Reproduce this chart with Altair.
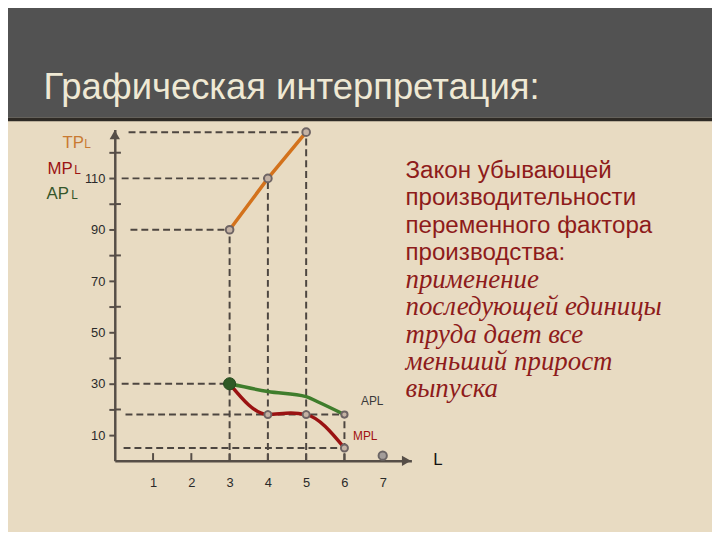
import altair as alt
import pandas as pd

# ---------------- data ----------------
TITLE = "Графическая интерпретация:"
RULE_LINES = ["Закон убывающей", "производительности", "переменного фактора", "производства:"]
RULE_ITALIC = ["применение", "последующей единицы", "труда дает все", "меньший прирост", "выпуска"]

TP_L = [3, 4, 5]
TP = [90, 110, 128]

AP_L = [3, 4, 5, 5.3, 6]
AP = [30, 27, 25, 23, 18]

MP_L = [3, 4, 4.6, 5, 6]
MP = [30, 18, 18.6, 18, 5]
MP_MARK_L = [4, 5, 6]
MP_MARK = [18, 18, 5]

AP_MARK_L = [6]
AP_MARK = [18]
AP_BIG_L = [3]
AP_BIG = [30]

EXTRA_L = [7]
EXTRA = [2]

X_TICKS = [1, 2, 3, 4, 5, 6, 7]
Y_TICKS = [10, 20, 30, 40, 50, 60, 70, 80, 90, 100, 110, 120]
Y_MINOR = [20, 40, 60, 80, 100, 120]
X_UP_TICKS = [1, 2, 3, 4, 5, 6]

H_Y = [128, 110, 90, 30, 18, 5]
H_X0 = [0.36, 0.18, 0.41, 0.18, 0.28, 0.23]
H_X1 = [5, 4, 3, 3, 6, 6]

V_X = [3, 4, 5, 6]
V_Y1 = [90, 110, 128, 18]

# ---------------- styles ----------------
AXC = "#564e47"
BG = "#e8dbc2"
TP_C = "#d3721c"
AP_C = "#3f7d2c"
MP_C = "#9a1212"
TXT_C = "#8e1b1b"

xs = alt.Scale(domain=[0, 7.75], nice=False, zero=False)
ys = alt.Scale(domain=[0, 129], nice=False)
xax = alt.Axis(values=X_TICKS, ticks=False, tickSize=0, labelPadding=16, grid=False,
               domainColor=AXC, domainWidth=2.5, labelFontSize=13, labelColor="#2a2a2a",
               labelFont="Liberation Sans", title=None, labelFlush=False, labelOverlap=False)
yax = alt.Axis(values=Y_TICKS, labelExpr="datum.value % 20 == 10 ? datum.value : ''",
               tickSize=6, tickWidth=2, tickColor=AXC, domainColor=AXC, domainWidth=2.5,
               grid=False, labelFontSize=13, labelPadding=4, labelColor="#2a2a2a",
               labelFont="Liberation Sans", title=None, labelOverlap=False, labelFlush=False)


def X(f):
    return alt.X(f, type="quantitative", scale=xs, axis=xax)


def Y(f):
    return alt.Y(f, type="quantitative", scale=ys, axis=yax)


one = pd.DataFrame({"k": [0]})

tp_df = pd.DataFrame({"L": TP_L, "v": TP})
ap_df = pd.DataFrame({"L": AP_L, "v": AP})
mp_df = pd.DataFrame({"L": MP_L, "v": MP})
mpm_df = pd.DataFrame({"L": MP_MARK_L, "v": MP_MARK})
apm_df = pd.DataFrame({"L": AP_MARK_L, "v": AP_MARK})
apb_df = pd.DataFrame({"L": AP_BIG_L, "v": AP_BIG})
ex_df = pd.DataFrame({"L": EXTRA_L, "v": EXTRA})
h_df = pd.DataFrame({"x0": H_X0, "x1": H_X1, "v": H_Y})
v_df = pd.DataFrame({"L": V_X, "y0": [0] * len(V_X), "y1": V_Y1})
xt_df = pd.DataFrame({"L": X_UP_TICKS, "y0": [0] * len(X_UP_TICKS), "y1": [3] * len(X_UP_TICKS)})
ym_df = pd.DataFrame({"x0": [0] * len(Y_MINOR), "x1": [0.16] * len(Y_MINOR), "v": Y_MINOR})
arr_up = pd.DataFrame({"L": [0], "v": [127]})
arr_right = pd.DataFrame({"L": [7.62], "v": [0]})

# ---------------- decoration ----------------
header = alt.Chart(one).mark_rect(color="#525252").encode(
    x=alt.value(-116), x2=alt.value(604), y=alt.value(-128), y2=alt.value(-12))
header_line = alt.Chart(one).mark_rect(color="#2e2a25").encode(
    x=alt.value(-116), x2=alt.value(604), y=alt.value(-12), y2=alt.value(-8.5))
title = alt.Chart(one).mark_text(text=TITLE, align="left", baseline="alphabetic",
                                 font="Liberation Sans", fontSize=36.8, color="#efe9d4").encode(
    x=alt.value(-72), y=alt.value(-31))

rule_txt = alt.Chart(one).mark_text(text=RULE_LINES, align="left", baseline="alphabetic",
                                    font="Liberation Sans", fontSize=24.4, lineHeight=27.7,
                                    color=TXT_C).encode(x=alt.value(294), y=alt.value(49))
rule_it = alt.Chart(one).mark_text(text=RULE_ITALIC, align="left", baseline="alphabetic",
                                   font="Liberation Serif", fontStyle="italic", fontSize=27.2,
                                   lineHeight=27.7, color=TXT_C).encode(x=alt.value(294), y=alt.value(160))


def lbl(text, x, y, size, color, align="left"):
    return alt.Chart(one).mark_text(text=text, align=align, baseline="alphabetic",
                                    font="Liberation Sans", fontSize=size, color=color).encode(
        x=alt.value(x), y=alt.value(y))


labels = [
    lbl("TP", -53, 19, 17, "#c97a32"), lbl("L", -31, 19, 12, "#c97a32"),
    lbl("MP", -68, 45, 17, "#9b1313"), lbl("L", -41, 45, 12, "#9b1313"),
    lbl("AP", -69, 70, 17, "#34562a"), lbl("L", -44, 70, 12, "#34562a"),
    lbl("APL", 249, 279, 12, "#3a3a3a"),
    lbl("MPL", 241, 314, 12, "#a01010"),
    lbl("L", 322, 339, 17, "#111111"),
]

# ---------------- chart layers ----------------
dash_h = alt.Chart(h_df).mark_rule(color="#4d4640", strokeWidth=2, strokeDash=[7, 4]).encode(
    x=X("x0"), x2="x1", y=Y("v"))
dash_v = alt.Chart(v_df).mark_rule(color="#4d4640", strokeWidth=2, strokeDash=[7, 4]).encode(
    x=X("L"), y=Y("y0"), y2="y1")
xticks = alt.Chart(xt_df).mark_rule(color=AXC, strokeWidth=2).encode(
    x=X("L"), y=Y("y0"), y2="y1")
yminor = alt.Chart(ym_df).mark_rule(color=AXC, strokeWidth=2).encode(
    x=X("x0"), x2="x1", y=Y("v"))

arrow_up = alt.Chart(arr_up).mark_point(shape="triangle-up", filled=True, size=110,
                                        color=AXC, opacity=1).encode(x=X("L"), y=Y("v"))
arrow_right = alt.Chart(arr_right).mark_point(shape="triangle-right", filled=True, size=110,
                                              color=AXC, opacity=1).encode(x=X("L"), y=Y("v"))

tp_line = alt.Chart(tp_df).mark_line(color=TP_C, strokeWidth=3.5).encode(x=X("L"), y=Y("v"))
ap_line = alt.Chart(ap_df).mark_line(color=AP_C, strokeWidth=3.5, interpolate="monotone").encode(
    x=X("L"), y=Y("v"))
mp_line = alt.Chart(mp_df).mark_line(color=MP_C, strokeWidth=3.5, interpolate="monotone").encode(
    x=X("L"), y=Y("v"))

pt_style = dict(shape="circle", filled=True, fill="#c4b2a4", stroke="#6e6464",
                strokeWidth=2, opacity=1)
tp_pts = alt.Chart(tp_df).mark_point(size=60, **pt_style).encode(x=X("L"), y=Y("v"))
mp_pts = alt.Chart(mpm_df).mark_point(size=50, **pt_style).encode(x=X("L"), y=Y("v"))
ap_pts = alt.Chart(apm_df).mark_point(size=40, **pt_style).encode(x=X("L"), y=Y("v"))
ap_big = alt.Chart(apb_df).mark_point(shape="circle", filled=True, size=150, fill="#2f5a26",
                                      stroke="#244a1e", strokeWidth=1, opacity=1).encode(
    x=X("L"), y=Y("v"))
ex_pt = alt.Chart(ex_df).mark_point(shape="circle", filled=True, size=70, fill="#a39d9a",
                                    stroke="#6b6565", strokeWidth=2, opacity=1).encode(
    x=X("L"), y=Y("v"))

chart = alt.layer(
    header, header_line, title,
    dash_h, dash_v, xticks, yminor, arrow_up, arrow_right,
    tp_line, ap_line, mp_line,
    tp_pts, mp_pts, ap_pts, ap_big, ex_pt,
    rule_txt, rule_it, *labels,
).properties(
    width=300, height=335,
    padding={"left": 108, "top": 120, "right": 304, "bottom": 69},
    autosize=alt.AutoSizeParams(type="none"),
    background=BG,
).configure_view(strokeWidth=0)

chart.save("out.html", embed_options={"renderer": "svg", "actions": False})
